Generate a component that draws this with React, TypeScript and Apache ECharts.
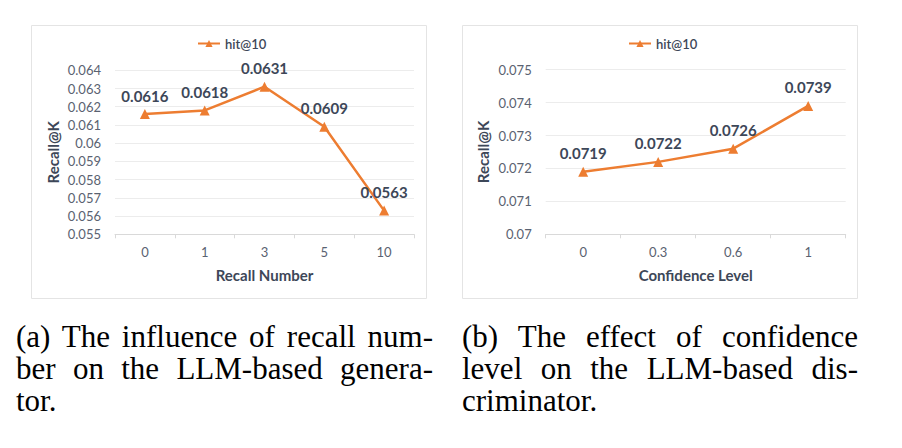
import React, { useEffect, useRef } from "react";
import * as echarts from "echarts";

// ---- data ----
const recallNumbers = ["0", "1", "3", "5", "10"];
const recallHit10 = [0.0616, 0.0618, 0.0631, 0.0609, 0.0563];
const recallYMin = 0.055;
const recallYMax = 0.064;

const confidenceLevels = ["0", "0.3", "0.6", "1"];
const confidenceHit10 = [0.0719, 0.0722, 0.0726, 0.0739];
const confYMin = 0.07;
const confYMax = 0.075;

const yStep = 0.001;
const seriesName = "hit@10";
const yAxisTitle = "Recall@K";
const xTitleA = "Recall Number";
const xTitleB = "Confidence Level";

const captionA = ["(a) The influence of recall num-", "ber on the LLM-based genera-", "tor."];
const captionB = ["(b) The effect of confidence", "level on the LLM-based dis-", "criminator."];

const FONT = "Lato, 'Open Sans', sans-serif";
const ORANGE = "#ED7D31";
const TICK_COLOR = "#5a6271";
const DARK = "#3d4758";

function fmtTick(v: number) {
  return String(parseFloat(v.toFixed(3)));
}

function makeAxes(idx: number, cats: string[], name: string, min: number, max: number) {
  const xAxis = {
    type: "category",
    gridIndex: idx,
    data: cats,
    boundaryGap: true,
    name,
    nameLocation: "middle",
    nameGap: 33,
    nameTextStyle: { fontFamily: FONT, fontSize: 15, fontWeight: "bold", color: DARK },
    axisLine: { show: true, lineStyle: { color: "#d9d9d9", width: 1 } },
    axisTick: { show: true, alignWithLabel: false, length: 4, lineStyle: { color: "#d9d9d9" } },
    axisLabel: { fontFamily: FONT, fontSize: 13, color: TICK_COLOR, margin: 11 },
    splitLine: { show: false },
  };
  const yAxis = {
    type: "value",
    gridIndex: idx,
    min,
    max,
    interval: yStep,
    name: yAxisTitle,
    nameLocation: "middle",
    nameGap: 55,
    nameTextStyle: { fontFamily: FONT, fontSize: 15, fontWeight: "bold", color: DARK },
    axisLine: { show: false },
    axisTick: { show: false },
    axisLabel: { fontFamily: FONT, fontSize: 13, color: TICK_COLOR, margin: 14, formatter: fmtTick },
    splitLine: { show: true, lineStyle: { color: "#ececec", width: 1 } },
  };
  return { xAxis, yAxis };
}

function makeSeries(idx: number, data: number[]) {
  return {
    type: "line",
    name: seriesName,
    xAxisIndex: idx,
    yAxisIndex: idx,
    data,
    symbol: "triangle",
    symbolSize: 10,
    lineStyle: { color: ORANGE, width: 2.5 },
    itemStyle: { color: ORANGE },
    label: {
      show: true,
      position: "top",
      distance: 6,
      fontFamily: FONT,
      fontSize: 15,
      fontWeight: "bold",
      color: DARK,
      formatter: (p: any) => Number(p.value).toFixed(4),
    },
  };
}

export default function App() {
  const ref = useRef<HTMLDivElement>(null);
  useEffect(() => {
    if (!ref.current) return;
    const chart = echarts.init(ref.current, undefined, { renderer: "svg" });
    const a = makeAxes(0, recallNumbers, xTitleA, recallYMin, recallYMax);
    const b = makeAxes(1, confidenceLevels, xTitleB, confYMin, confYMax);
    const legendBase = {
      data: [seriesName],
      orient: "horizontal",
      itemWidth: 22,
      itemHeight: 9,
      padding: 0,
      selectedMode: false,
      textStyle: { fontFamily: FONT, fontSize: 13, fontWeight: 600, color: DARK },
    };
    chart.setOption({
      animation: false,
      backgroundColor: "#ffffff",
      graphic: [
        {
          type: "rect",
          silent: true,
          z: -10,
          shape: { x: 31.5, y: 25.5, width: 395, height: 273 },
          style: { fill: "#ffffff", stroke: "#e4e4e4", lineWidth: 1 },
        },
        {
          type: "rect",
          silent: true,
          z: -10,
          shape: { x: 462.5, y: 25.5, width: 395, height: 273 },
          style: { fill: "#ffffff", stroke: "#e4e4e4", lineWidth: 1 },
        },
      ],
      legend: [
        { ...legendBase, left: 197, top: 37 },
        { ...legendBase, left: 628, top: 37 },
      ],
      grid: [
        { left: 115, top: 70.3, width: 299, height: 164 },
        { left: 545.7, top: 69.7, width: 300, height: 164.6 },
      ],
      xAxis: [a.xAxis, b.xAxis],
      yAxis: [a.yAxis, b.yAxis],
      series: [makeSeries(0, recallHit10), makeSeries(1, confidenceHit10)],
    });
    return () => chart.dispose();
  }, []);

  const capStyle: React.CSSProperties = {
    position: "absolute",
    top: 321,
    fontFamily: "'Liberation Serif', 'Times New Roman', serif",
    fontSize: 31,
    lineHeight: "32px",
    color: "#000",
  };
  const renderLines = (lines: string[]) =>
    lines.map((t, i) => (
      <div
        key={i}
        style={{
          textAlign: i < lines.length - 1 ? "justify" : "left",
          textAlignLast: i < lines.length - 1 ? "justify" : "left",
          whiteSpace: "nowrap",
        }}
      >
        {t}
      </div>
    ));

  return (
    <div style={{ position: "absolute", left: 0, top: 0, width: 902, height: 448, background: "#fff", overflow: "hidden" }}>
      <div ref={ref} style={{ position: "absolute", left: 0, top: 0, width: 902, height: 305 }} />
      <div style={{ ...capStyle, left: 16, width: 417 }}>{renderLines(captionA)}</div>
      <div style={{ ...capStyle, left: 462, width: 396 }}>{renderLines(captionB)}</div>
    </div>
  );
}
